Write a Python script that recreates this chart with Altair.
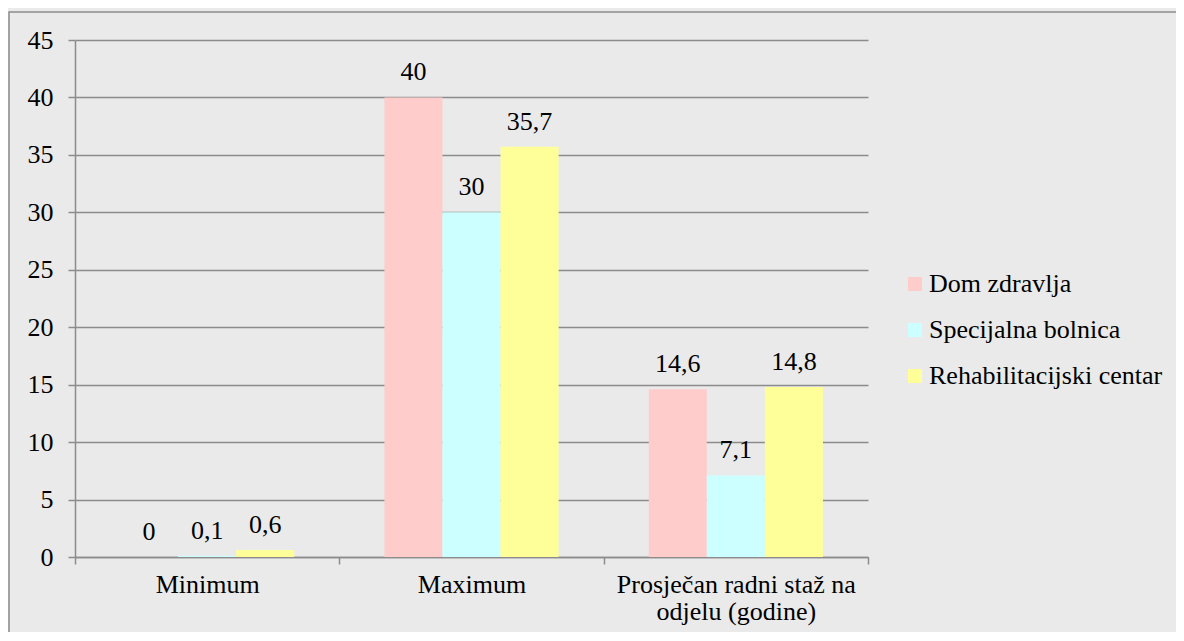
import altair as alt
import pandas as pd

categories = ["Minimum", "Maximum", "Prosječan radni staž na odjelu (godine)"]
series = ["Dom zdravlja", "Specijalna bolnica", "Rehabilitacijski centar"]
dom_zdravlja = [0, 40, 14.6]
specijalna_bolnica = [0.1, 30, 7.1]
rehabilitacijski_centar = [0.6, 35.7, 14.8]
colors = ["#FFCCCC", "#CCFFFF", "#FFFF99"]
y_ticks = [0, 5, 10, 15, 20, 25, 30, 35, 40, 45]

rows = []
for s, vals in zip(series, [dom_zdravlja, specijalna_bolnica, rehabilitacijski_centar]):
    for c, v in zip(categories, vals):
        rows.append({"kategorija": c, "serija": s, "vrijednost": v,
                     "oznaka": f"{v:g}".replace(".", ",")})
df = pd.DataFrame(rows)

FONT = "'Liberation Serif', 'Times New Roman', Times, serif"
GRID = "#8C8C8C"

x_enc = alt.X("kategorija:N", sort=categories, title=None,
              scale=alt.Scale(paddingInner=0, paddingOuter=0),
              axis=alt.Axis(labelAngle=0, tickBand="extent", tickSize=7,
                            labelPadding=7, labelLineHeight=27, labelLimit=500,
                            labelExpr="datum.label == 'Prosječan radni staž na odjelu (godine)' ? ['Prosječan radni staž na', 'odjelu (godine)'] : datum.label"))
xo_enc = alt.XOffset("serija:N", sort=series,
                     scale=alt.Scale(paddingInner=0, paddingOuter=0.776))
y_enc = alt.Y("vrijednost:Q", title=None,
              scale=alt.Scale(domain=[0, 45], nice=False),
              axis=alt.Axis(values=y_ticks, tickSize=7, labelPadding=15, grid=True))

base = alt.Chart(df)

bars = base.mark_bar().encode(
    x=x_enc, xOffset=xo_enc, y=y_enc,
    color=alt.Color("serija:N", sort=series, title=None,
                    scale=alt.Scale(domain=series, range=colors),
                    legend=alt.Legend(orient="none", legendX=827, legendY=231,
                                      symbolType="square", symbolSize=196,
                                      symbolStrokeWidth=0, labelOffset=1,
                                      rowPadding=20, labelFont=FONT,
                                      labelFontSize=26, labelColor="black",
                                      labelLimit=400)),
)

text = base.mark_text(baseline="alphabetic", dy=-17, font=FONT, fontSize=26,
                      color="black").encode(
    x=alt.X("kategorija:N", sort=categories),
    xOffset=alt.XOffset("serija:N", sort=series),
    y="vrijednost:Q", text="oznaka:N",
)

frame = alt.Chart(alt.Data(values=[{"a": 1}])).mark_rect(
    fill=None, stroke=GRID, strokeWidth=1.5, clip=False
).encode(x=alt.value(-66), x2=alt.value(1300), y=alt.value(-28), y2=alt.value(900))

chart = alt.layer(frame, bars, text).properties(
    width=793, height=517,
    autosize=alt.AutoSizeParams(type="none"),
    padding={"left": 67, "top": 32, "right": 308, "bottom": 75},
    background="#EAEAEA",
).configure_view(stroke=None).configure_axis(
    labelFont=FONT, labelFontSize=26, labelColor="black",
    domainColor=GRID, domainWidth=1.5, tickColor=GRID, tickWidth=1.5,
    gridColor=GRID, gridWidth=1.5,
)

chart.save("out.html", embed_options={"renderer": "svg", "actions": False})
